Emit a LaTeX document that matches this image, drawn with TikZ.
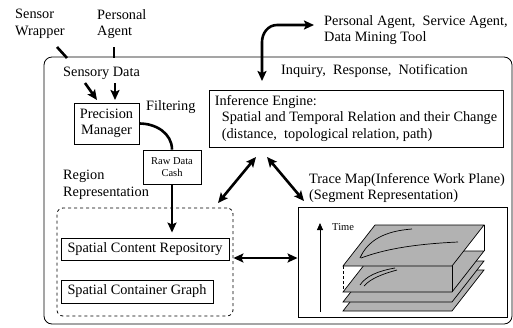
\documentclass[tikz,border=0pt]{standalone}
\usepackage{fontspec}
\setmainfont{Liberation Serif}
\usetikzlibrary{arrows.meta}
\begin{document}
\begin{tikzpicture}[x=1pt,y=-1pt,
  mainfont/.style={font=\fontsize{14.3}{16.5}\selectfont},
  txt/.style={inner sep=0pt, align=left, anchor=west, mainfont},
  box/.style={draw, line width=0.9pt, inner sep=0pt, mainfont},
  heavy/.style={line width=2.6pt},
  tip/.tip={Stealth[length=10pt,width=9pt,inset=2pt]},
  arr/.style={heavy, -tip},
  darr/.style={heavy, tip-tip},
  plane/.style={draw, line width=0.7pt, fill=black!30},
  trace/.style={line width=0.7pt},
]
\useasboundingbox (0,0) rectangle (513,327);

% outer frame
\node[draw, rounded corners=8pt, line width=0.8pt, minimum width=468pt, minimum height=267pt] (outer) at (278,190.5) {};

% outside sources
\node[txt] (sw) at (15,24) {Sensor\\Wrapper};
\node[txt] (pa) at (97,24) {Personal\\Agent};
\coordinate (swA) at (57,47);
\coordinate (swB) at (67,58);
\coordinate (paA) at (114,47);
\coordinate (paB) at (114,58);
\draw[heavy] (swA) -- (swB);
\draw[heavy] (paA) -- (paB);

\node[txt] (sd) at (63,73) {Sensory Data};

% precision manager and cache
\node[box, minimum width=65pt, minimum height=41pt, align=center] (pm) at (106.5,123.5) {Precision\\Manager};
\coordinate (sdA) at (85,83);
\coordinate (sdB) at (97,100);
\coordinate (sdC) at (115,83);
\coordinate (sdD) at (115,100);
\draw[arr] (sdA) -- (sdB);
\draw[arr] (sdC) -- (sdD);

\node[txt] (filt) at (146,107) {Filtering};
\node[box, minimum width=58pt, minimum height=34pt, align=center, font=\fontsize{10.5}{12.5}\selectfont] (rdc) at (172,167) {Raw Data\\Cash};
\draw[heavy] (pm.east) to[out=0,in=90] (rdc.north);

% region representation
\node[txt] (reg) at (63,185) {Region\\Representation};
\node[draw, dashed, line width=0.8pt, rounded corners=6pt, minimum width=176pt, minimum height=108pt] (rr) at (145,262) {};
\node[box, minimum width=168pt, minimum height=22pt] (scr) at (145,249) {Spatial Content Repository};
\node[box, minimum width=152pt, minimum height=23pt] (scg) at (137,291.5) {Spatial Container Graph};
\draw[arr, shorten >=5pt] (rdc.south) -- (rdc.south |- scr.north);

% inference engine
\node[box, minimum width=294pt, minimum height=57pt, align=left] (ie) at (356,118.5)
  {Inference Engine:\\
   \hspace*{7pt}Spatial and Temporal Relation and their Change\\
   \hspace*{7pt}(distance,\ \ topological relation, path)};
\node[txt] (iq) at (281,71) {Inquiry,\ \ Response,\ \ Notification};
\node[txt] (ag) at (324,30) {Personal Agent,\ \ Service Agent,\\Data Mining Tool};
\coordinate (agIn) at (314,25);
\coordinate (ieIn) at (262,81);
\draw[darr] (agIn) -- (277,25) to[out=180,in=90] (262,42) -- (ieIn);

% trace map
\node[txt] (tmt) at (309,188) {Trace Map(Inference Work Plane)\\(Segment Representation)};
\node[box, minimum width=209pt, minimum height=110pt] (tmb) at (402.5,262) {};

% links between the three parts
\coordinate (ieL) at (256,157);
\coordinate (rrT) at (218,203);
\coordinate (ieR) at (267,157);
\coordinate (tmT) at (304,201);
\draw[darr] (ieL) -- (rrT);
\draw[darr] (ieR) -- (tmT);
\draw[darr] ([yshift=4pt]rr.east) -- ([yshift=4pt]tmb.west);

% time axis
\coordinate (tA) at (320,312);
\coordinate (tB) at (320,223);
\draw[line width=0.8pt, -{Triangle[length=7pt,width=6pt]}] (tA) -- (tB);
\node[txt, font=\fontsize{10.5}{12}\selectfont] (time) at (332,227) {Time};

% stacked planes, bottom to top
\foreach \yf in {311,302,292} {
  \draw[plane] (343,\yf) -- (452,\yf) -- (484,\yf-41) -- (375,\yf-41) -- cycle;
}
\draw[trace] (360,285) .. controls (366,276) and (378,271) .. (395,268);
\draw[trace] (364,286) .. controls (370,279) and (382,274) .. (397,270);
\draw[line width=0.6pt, densely dashed] (343,266) -- (343,292);
\draw[line width=0.7pt] (452,266) -- (452,292);
\draw[line width=0.7pt] (484,225) -- (484,251);
\draw[plane] (343,266) -- (452,266) -- (484,225) -- (375,225) -- cycle;
\draw[trace] (360,258) .. controls (368,240) and (385,231) .. (412,229);
\draw[trace] (361,258) .. controls (385,249) and (415,244) .. (458,242);
\end{tikzpicture}
\end{document}
